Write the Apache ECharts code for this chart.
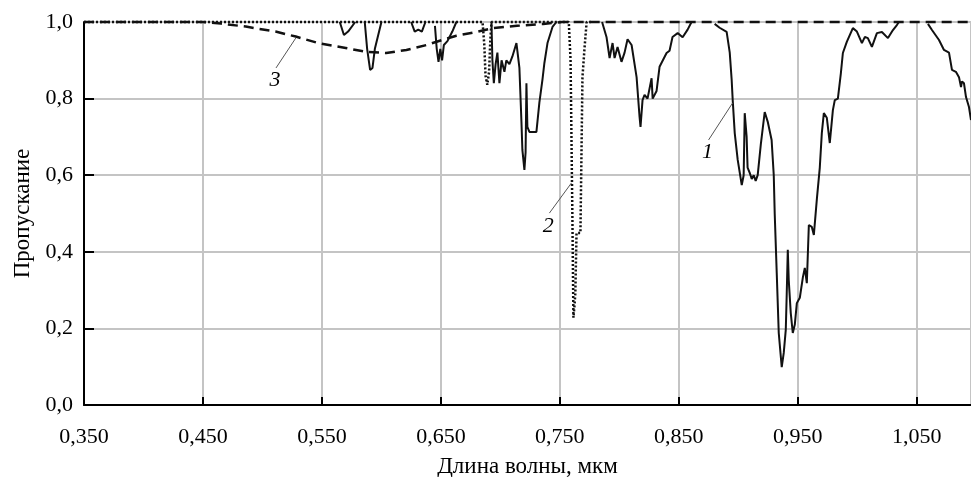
<!DOCTYPE html>
<html>
<head>
<meta charset="utf-8">
<script src="https://cdn.jsdelivr.net/npm/echarts@6/dist/echarts.min.js"></script>
<style>
html, body { margin: 0; padding: 0; background: #fff; }
#chart { width: 971px; height: 477px; }
</style>
</head>
<body>
<div id="chart"></div>
<script>
// wavelength (mkm), transmission; null = line not drawn (sits on 1,0)
const waterVapor = [
	[0.565, 1], [0.5685, 0.966], [0.572, 0.975], [0.578, 1], [0.58, null],
	[0.586, 1], [0.588, 0.93], [0.5905, 0.875], [0.5925, 0.88], [0.5945, 0.93], [0.6, 1], [0.605, null],
	[0.625, 1], [0.628, 0.975], [0.631, 0.98], [0.634, 0.975], [0.637, 1], [0.64, null],
	[0.645, 0.99], [0.6465, 0.93], [0.648, 0.896], [0.6495, 0.93], [0.651, 0.9], [0.6525, 0.94], [0.6555, 0.95], [0.6596, 0.975], [0.663, 1], [0.67, null],
	[0.6925, 1], [0.6933, 0.9], [0.6945, 0.84], [0.696, 0.89], [0.6975, 0.92], [0.6992, 0.84], [0.701, 0.9], [0.7034, 0.87],
	[0.705, 0.9], [0.7076, 0.89], [0.7101, 0.91], [0.7135, 0.945], [0.716, 0.88], [0.7177, 0.74], [0.7185, 0.666], [0.7202, 0.614],
	[0.7212, 0.66], [0.7219, 0.84], [0.7227, 0.726], [0.7244, 0.713], [0.7303, 0.713], [0.7328, 0.79], [0.7354, 0.85], [0.737, 0.893],
	[0.7396, 0.945], [0.7438, 0.987], [0.7471, 1], [0.76, null],
	[0.7855, 1], [0.7892, 0.961], [0.7918, 0.906], [0.7943, 0.945], [0.796, 0.906], [0.7985, 0.935], [0.8018, 0.896], [0.8044, 0.92],
	[0.8069, 0.955], [0.8103, 0.94], [0.8145, 0.856], [0.817, 0.752], [0.8178, 0.726], [0.8195, 0.796], [0.8212, 0.81], [0.8237, 0.8],
	[0.8271, 0.853], [0.828, 0.8], [0.8313, 0.82], [0.8338, 0.883], [0.8397, 0.919], [0.8422, 0.925], [0.8447, 0.961], [0.849, 0.971],
	[0.8532, 0.96], [0.8574, 0.98], [0.8607, 1], [0.87, null],
	[0.8801, 0.995], [0.8843, 0.985], [0.8902, 0.974], [0.8928, 0.92], [0.8944, 0.85], [0.8953, 0.796], [0.897, 0.71], [0.8995, 0.64],
	[0.9029, 0.574], [0.9045, 0.6], [0.9054, 0.762], [0.907, 0.7], [0.9078, 0.62], [0.9096, 0.606], [0.9113, 0.59], [0.913, 0.6],
	[0.9146, 0.585], [0.9163, 0.6], [0.9189, 0.68], [0.9222, 0.765], [0.9247, 0.74], [0.928, 0.692], [0.9298, 0.6], [0.9306, 0.5],
	[0.9323, 0.345], [0.934, 0.188], [0.9365, 0.099], [0.9382, 0.136], [0.9399, 0.196], [0.9407, 0.29], [0.9416, 0.405], [0.9424, 0.326],
	[0.9441, 0.24], [0.9458, 0.188], [0.9475, 0.21], [0.9492, 0.266], [0.9517, 0.28], [0.9543, 0.334], [0.9559, 0.358], [0.9576, 0.318],
	[0.9593, 0.47], [0.9618, 0.465], [0.9635, 0.444], [0.9661, 0.54], [0.9668, 0.535], [0.9685, 0.62], [0.9702, 0.71], [0.9719, 0.762],
	[0.9744, 0.75], [0.9769, 0.684], [0.9795, 0.77], [0.9811, 0.796], [0.9837, 0.8], [0.9862, 0.866], [0.9879, 0.919], [0.9912, 0.948],
	[0.9963, 0.984], [0.9997, 0.975], [1.0039, 0.945], [1.0064, 0.961], [1.0089, 0.958], [1.0123, 0.935], [1.0165, 0.971], [1.0207, 0.974],
	[1.0258, 0.958], [1.03, 0.979], [1.0333, 0.992], [1.035, 1], [1.045, null],
	[1.0594, 0.995], [1.0628, 0.979], [1.0687, 0.953], [1.0729, 0.927], [1.0771, 0.92], [1.0796, 0.875], [1.0829, 0.87], [1.0855, 0.856],
	[1.0872, 0.83], [1.088, 0.845], [1.0897, 0.84], [1.0914, 0.804], [1.0939, 0.778], [1.0956, 0.744]
];
const oxygen = [
	[0.35, 1], [0.685, 1], [0.6865, 0.94], [0.6875, 0.86], [0.689, 0.836], [0.6905, 0.87], [0.6915, 0.95], [0.6925, 1],
	[0.7575, 1], [0.759, 0.9], [0.7605, 0.5], [0.7614, 0.228], [0.7623, 0.26], [0.763, 0.292], [0.764, 0.449], [0.7673, 0.449],
	[0.769, 0.856], [0.7707, 0.93], [0.7725, 1], [0.776, 1]
];
const ozone = [
	[0.35, 1], [0.45, 1], [0.465, 0.996], [0.486, 0.988], [0.511, 0.975], [0.528, 0.962], [0.547, 0.945], [0.57, 0.932],
	[0.587, 0.922], [0.604, 0.919], [0.621, 0.927], [0.638, 0.94], [0.651, 0.953], [0.663, 0.964], [0.68, 0.974], [0.694, 0.984],
	[0.714, 0.99], [0.736, 0.995], [0.752, 1], [1.0956, 1]
];
// curve labels: [text, leader start, leader end]
const curveLabels = [
	['1', [0.875, 0.692], [0.8953, 0.789]],
	['2', [0.7412, 0.501], [0.7598, 0.58]],
	['3', [0.5114, 0.88], [0.528, 0.958]]
];
const xMin = 0.35;
const xMax = 1.0956;

const font = 'Liberation Serif';
const chart = echarts.init(document.getElementById('chart'));

function leader(i) {
	const c = curveLabels[i];
	return {
		silent: true,
		symbol: ['none', 'none'],
		animation: false,
		lineStyle: { color: '#555', width: 1, type: 'solid' },
		label: {
			show: true, position: 'start', distance: 2,
			formatter: c[0],
			fontFamily: font, fontStyle: 'italic', fontSize: 22, color: '#000'
		},
		data: [[{ coord: c[1] }, { coord: c[2] }]]
	};
}

const option = {
	animation: false,
	grid: { left: 84, right: 0, top: 22, bottom: 72, outerBoundsMode: 'none' },
	xAxis: [
		{ type: 'value', min: xMin, max: xMax, show: false },
		{
			type: 'value', position: 'bottom', min: 0, max: xMax - xMin, interval: 0.1,
			name: 'Длина волны, мкм', nameLocation: 'middle', nameGap: 50,
			nameTextStyle: { fontFamily: font, fontSize: 23, color: '#000' },
			axisLine: { lineStyle: { color: '#000', width: 2 } },
			axisTick: { inside: true, length: 8, lineStyle: { color: '#000', width: 2 } },
			axisLabel: {
				margin: 21, fontFamily: font, fontSize: 22, color: '#000', showMaxLabel: false,
				formatter: v => (v + xMin).toFixed(3).replace('.', ',')
			},
			splitLine: { show: true, lineStyle: { color: '#c4c4c4', width: 2 } }
		}
	],
	yAxis: {
		type: 'value', min: 0, max: 1, interval: 0.2,
		name: 'Пропускание', nameLocation: 'middle', nameGap: 50,
		nameTextStyle: { fontFamily: font, fontSize: 23, color: '#000' },
		axisLine: { show: true, lineStyle: { color: '#000', width: 2 } },
		axisTick: { show: true, inside: true, length: 10, lineStyle: { color: '#000', width: 2 } },
		axisLabel: {
			margin: 11, fontFamily: font, fontSize: 22, color: '#000',
			formatter: v => v.toFixed(1).replace('.', ',')
		},
		splitLine: { show: true, lineStyle: { color: '#c4c4c4', width: 2 } }
	},
	series: [
		{
			name: '2', type: 'line', xAxisIndex: 0, data: oxygen, showSymbol: false, clip: false,
			lineStyle: { color: '#111', width: 2.5, type: [2, 2] },
			markLine: leader(1)
		},
		{
			name: '3', type: 'line', xAxisIndex: 0, data: ozone, showSymbol: false, clip: false,
			lineStyle: { color: '#111', width: 2.5, type: [10, 6] },
			markLine: leader(2)
		},
		{
			name: '1', type: 'line', xAxisIndex: 0, data: waterVapor, showSymbol: false, clip: false,
			connectNulls: false,
			lineStyle: { color: '#111', width: 2 },
			markLine: leader(0)
		}
	]
};

chart.setOption(option);
</script>
</body>
</html>
